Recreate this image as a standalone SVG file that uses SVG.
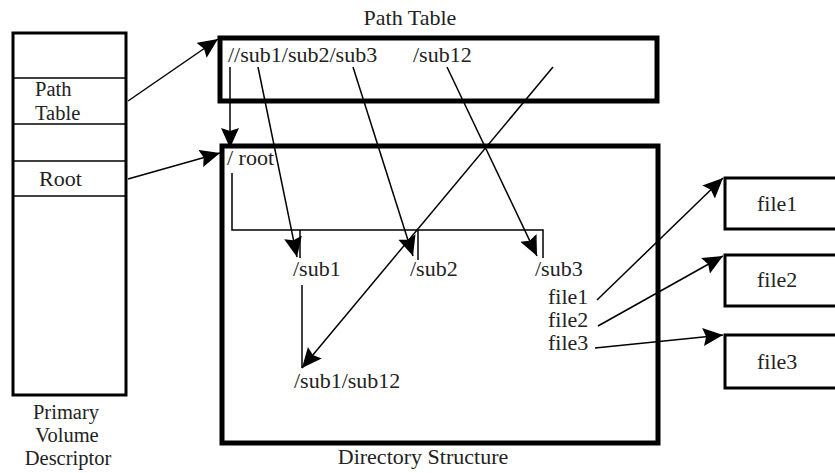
<svg xmlns="http://www.w3.org/2000/svg" width="835" height="473" viewBox="0 0 835 473">
<style>
text{font-family:"Liberation Serif","Times New Roman",serif;font-size:22px;fill:#222}
.sm{font-size:20.5px}
.box{fill:#fff;stroke:#000}
.thin{stroke-width:3}
.thick{stroke-width:5}
.ln{fill:none;stroke:#000;stroke-width:1.5}
.ar{fill:none;stroke:#000;stroke-width:1.5;marker-end:url(#ah)}
.mid{text-anchor:middle}
</style>
<defs>
<marker id="ah" markerUnits="userSpaceOnUse" markerWidth="24" markerHeight="20" refX="20" refY="9" orient="auto">
<path d="M0,0 L20,9 L0,18 L3,9 z" fill="#000"/>
</marker>
</defs>
<rect width="835" height="473" fill="#fff"/>

<g id="pvd">
<rect class="box thin" x="13" y="33" width="113" height="362"/>
<line class="ln" x1="13" y1="78" x2="126" y2="78"/>
<line class="ln" x1="13" y1="124" x2="126" y2="124"/>
<line class="ln" x1="13" y1="161" x2="126" y2="161"/>
<line class="ln" x1="13" y1="196" x2="126" y2="196"/>
<text class="sm" x="35" y="96">Path</text>
<text class="sm" x="35" y="120">Table</text>
<text x="39" y="186">Root</text>
<text class="mid sm" x="66" y="419">Primary</text>
<text class="mid sm" x="67" y="442">Volume</text>
<text class="mid sm" x="68" y="465">Descriptor</text>
</g>

<g id="pathtable">
<text class="mid" x="410" y="25">Path Table</text>
<rect class="box thick" x="220" y="38" width="437" height="63"/>
<text x="228" y="62">//sub1/sub2/sub3</text>
<text x="413" y="62">/sub12</text>
</g>

<g id="dir">
<rect class="box thick" x="222" y="146" width="436" height="297"/>
<text class="mid" x="423" y="464">Directory Structure</text>
<text x="227" y="165">/ root</text>
<text x="293" y="276">/sub1</text>
<text x="410" y="276">/sub2</text>
<text x="535" y="276">/sub3</text>
<text x="294" y="388">/sub1/sub12</text>
<text x="548" y="304">file1</text>
<text x="548" y="327">file2</text>
<text x="548" y="350">file3</text>
<path class="ln" d="M232,173 V230 H543 V258"/>
<line class="ln" x1="300" y1="230" x2="300" y2="258"/>
<line class="ln" x1="418" y1="230" x2="418" y2="260"/>
<line class="ln" x1="302" y1="285" x2="302" y2="368"/>
</g>

<g id="file1">
<rect class="box thin" x="725" y="178" width="130" height="51"/>
<text x="757" y="211">file1</text>
</g>
<g id="file2">
<rect class="box thin" x="725" y="255" width="130" height="51"/>
<text x="757" y="287">file2</text>
</g>
<g id="file3">
<rect class="box thin" x="725" y="335" width="130" height="53"/>
<text x="757" y="369">file3</text>
</g>

<g id="connectors">
<line class="ar" x1="128" y1="101" x2="218" y2="39"/>
<line class="ar" x1="128" y1="179" x2="220" y2="153"/>
<line class="ar" x1="230" y1="67" x2="230" y2="148"/>
<line class="ar" x1="258" y1="67" x2="297" y2="257"/>
<line class="ar" x1="353" y1="67" x2="413" y2="256"/>
<line class="ar" x1="447" y1="67" x2="537" y2="256"/>
<line class="ar" x1="553" y1="67" x2="302" y2="368"/>
<line class="ar" x1="597" y1="300" x2="723" y2="178"/>
<line class="ar" x1="598" y1="326" x2="723" y2="256"/>
<line class="ar" x1="595" y1="348" x2="723" y2="335"/>
</g>
</svg>
